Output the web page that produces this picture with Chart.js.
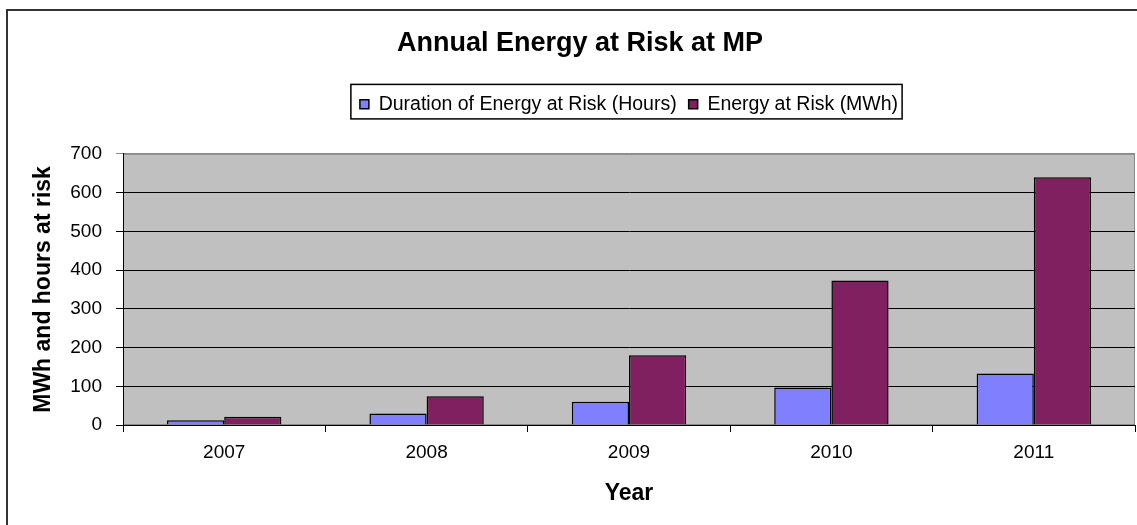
<!DOCTYPE html>
<html>
<head>
<meta charset="utf-8">
<script src="https://cdn.jsdelivr.net/npm/chart.js@4"></script>
<style>
  html, body { margin: 0; padding: 0; overflow: hidden; background: #fff; }
  #wrap { position: relative; width: 1164px; height: 525px; }
</style>
</head>
<body>
<div id="wrap"><canvas id="myChart"></canvas></div>
<script>
const years = ['2007', '2008', '2009', '2010', '2011'];
const hoursAtRisk = [12, 30, 60, 97, 133];
const mwhAtRisk = [21, 74, 180, 373, 640];
const yMin = 0, yMax = 700, yStep = 100;

Chart.defaults.font.family = '"Liberation Sans", Arial, sans-serif';
Chart.defaults.color = '#000';

// grey plot area + outer frame
const plotBg = {
  id: 'plotBg',
  beforeDraw(chart) {
    const ctx = chart.ctx, a = chart.chartArea;
    ctx.save();
    ctx.strokeStyle = '#333';
    ctx.lineWidth = 2;
    ctx.strokeRect(7, 10, 1150, 600);
    ctx.fillStyle = '#c0c0c0';
    ctx.fillRect(a.left, a.top, a.right - a.left, a.bottom - a.top);
    ctx.strokeStyle = '#8a8a8a';
    ctx.lineWidth = 1;
    ctx.strokeRect(a.left + 0.5, a.top + 0.5, a.right - a.left - 1, a.bottom - a.top - 1);
    ctx.restore();
  }
};

// black box round the legend
const legendBox = {
  id: 'legendBox',
  afterDraw(chart) {
    const hb = chart.legend.legendHitBoxes;
    if (!hb || !hb.length) return;
    let l = Infinity, r = -Infinity;
    hb.forEach(h => { l = Math.min(l, h.left); r = Math.max(r, h.left + h.width); });
    const t = hb[0].top, b = hb[0].top + hb[0].height;
    const ctx = chart.ctx;
    ctx.save();
    ctx.strokeStyle = '#000';
    ctx.lineWidth = 1.5;
    ctx.strokeRect(l - 9, t - 10, (r - l) + 13, (b - t) + 15);
    ctx.restore();
  }
};

const config = {
  type: 'bar',
  data: {
    labels: years,
    datasets: [{
      label: 'Duration of Energy at Risk (Hours)',
      data: hoursAtRisk,
      backgroundColor: '#8080ff',
      borderColor: '#000',
      borderWidth: 1.5
    }, {
      label: 'Energy at Risk (MWh)',
      data: mwhAtRisk,
      backgroundColor: '#802060',
      borderColor: '#000',
      borderWidth: 1.5
    }]
  },
  options: {
    responsive: true,
    maintainAspectRatio: false,
    animation: false,
    layout: { padding: { left: 25, right: 29, top: 0, bottom: 0 } },
    datasets: { bar: { categoryPercentage: 0.565, barPercentage: 1.0 } },
    plugins: {
      title: {
        display: true,
        text: 'Annual Energy at Risk at MP',
        font: { size: 27, weight: 'bold' },
        padding: { top: 27, bottom: 23 }
      },
      legend: {
        display: true,
        fullSize: false,
        labels: {
          boxWidth: 9,
          boxHeight: 9,
          padding: 12,
          font: { size: 19.5 }
        }
      },
      // empty spacer between legend and plot
      subtitle: {
        display: true,
        text: '',
        weight: 500,
        font: { size: 1, lineHeight: 1 },
        padding: { top: 29, bottom: 0 }
      },
      tooltip: { enabled: false }
    },
    scales: {
      x: {
        afterFit(scale) { scale.height = 100; },
        grid: { drawOnChartArea: false, drawTicks: true, tickLength: 7, color: '#000', offset: true },
        border: { display: true, color: '#000', width: 1 },
        ticks: { font: { size: 19 }, padding: 9 },
        title: {
          display: true,
          text: 'Year',
          font: { size: 23, weight: 'bold' },
          padding: { top: 0, bottom: 18 }
        }
      },
      y: {
        min: yMin,
        max: yMax,
        afterFit(scale) { scale.width = 98; },
        grid: {
          color: c => (c.tick && c.tick.value === yMax) ? '#8a8a8a' : '#000',
          lineWidth: 1,
          drawTicks: true,
          tickLength: 7
        },
        border: { display: true, color: '#000', width: 1 },
        ticks: { stepSize: yStep, font: { size: 19 }, padding: 14 },
        title: {
          display: true,
          text: 'MWh and hours at risk',
          font: { size: 23, weight: 'bold' },
          padding: { top: 5, bottom: 0 }
        }
      }
    }
  },
  plugins: [plotBg, legendBox]
};

var ctx = document.getElementById('myChart').getContext('2d');
grafica = new Chart(ctx, config);
</script>
</body>
</html>
